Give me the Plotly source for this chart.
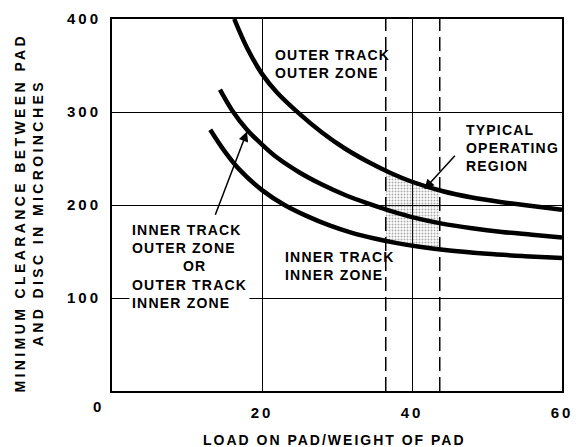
import numpy as np
import plotly.graph_objects as go

# Minimum clearance (microinches) versus load/weight ratio
oo_x = [16.3, 18, 20, 22, 25, 28, 31, 34, 37, 40, 44, 48, 52, 56, 60]
oo_y = [400, 369, 341, 321, 298, 278, 261, 247, 235, 225, 215, 208, 203, 199, 195]

mid_x = [14.4, 16, 18, 20, 22, 25, 28, 31, 34, 37, 40, 44, 48, 52, 56, 60]
mid_y = [324, 302, 281, 265, 251, 235, 222, 211, 202, 194, 187, 180, 175, 171, 168, 165]

ii_x = [13.1, 15, 17, 20, 23, 26, 29, 32, 35, 38, 41, 45, 50, 55, 60]
ii_y = [281, 258, 238, 216, 200, 188, 178, 170, 164, 159, 155, 151, 147.5, 145, 143]

# Typical operating load range
op_x = [36.5, 43.7]

x_ticks = [20, 40, 60]
y_ticks = [100, 200, 300, 400]

FONT = "Liberation Sans"


def sp(text, px=1.2):
    lines = text.split("\n")
    return "<br>".join(f'<span style="letter-spacing:{px}px">{ln}</span>' for ln in lines)


fig = go.Figure()

# stippled operating region between the inner and outer curves
xs = np.linspace(op_x[0], op_x[1], 25)
lower = np.interp(xs, ii_x, ii_y)
upper = np.interp(xs, oo_x, oo_y)
fig.add_trace(go.Scatter(x=xs, y=lower, mode="lines", line=dict(width=0),
                         hoverinfo="skip", showlegend=False))
fig.add_trace(go.Scatter(x=xs, y=upper, mode="lines", line=dict(width=0),
                         fill="tonexty", fillcolor="rgba(0,0,0,0)",
                         fillpattern=dict(shape=".", fgcolor="#555", bgcolor="rgba(0,0,0,0)",
                                          size=3, solidity=0.35),
                         hoverinfo="skip", showlegend=False))

for cx, cy in [(oo_x, oo_y), (mid_x, mid_y), (ii_x, ii_y)]:
    fig.add_trace(go.Scatter(x=cx, y=cy, mode="lines",
                             line=dict(color="black", width=4.5, shape="spline", smoothing=1.0),
                             showlegend=False))

for xv in op_x:
    fig.add_shape(type="line", x0=xv, x1=xv, y0=0, y1=1, yref="paper",
                  line=dict(color="black", width=1.5, dash="14px,6px"))

tfont = dict(family=FONT, size=14, color="black", weight="bold")
kfont = dict(family=FONT, size=15, color="black", weight="bold")

fig.add_annotation(x=21.5, y=352, text=sp("OUTER TRACK\nOUTER ZONE"), showarrow=False,
                   xanchor="left", yanchor="middle", align="left", font=tfont)
fig.add_annotation(x=46.9, y=261, text=sp("TYPICAL\nOPERATING\nREGION"), showarrow=False,
                   xanchor="left", yanchor="middle", align="left", font=tfont)
fig.add_annotation(x=22.8, y=134, text=sp("INNER TRACK\nINNER ZONE"), showarrow=False,
                   xanchor="left", yanchor="middle", align="left", font=tfont)
fig.add_annotation(x=2.3, y=134,
                   text=sp("INNER TRACK\nOUTER ZONE\n" + "&nbsp;" * 10 + "OR\nOUTER TRACK\nINNER ZONE"),
                   showarrow=False, xanchor="left", yanchor="middle", align="left",
                   bgcolor="white", borderpad=2, font=tfont)

# pointer arrows
fig.add_annotation(x=41.65, y=217, ax=45.9, ay=254.5, axref="x", ayref="y", text="",
                   showarrow=True, arrowhead=2, arrowsize=1.3, arrowwidth=1.5, arrowcolor="black")
fig.add_annotation(x=18.0, y=279, ax=13.7, ay=188, axref="x", ayref="y", text="",
                   showarrow=True, arrowhead=2, arrowsize=1.3, arrowwidth=1.5, arrowcolor="black")

# shared origin label and axis titles
fig.add_annotation(x=-0.03, y=-0.043, xref="paper", yref="paper", text=sp("0", 3),
                   showarrow=False, xanchor="center", yanchor="middle", font=kfont)
fig.add_annotation(x=0.495, y=-0.131, xref="paper", yref="paper",
                   text=sp("LOAD ON PAD/WEIGHT OF PAD", 2), showarrow=False,
                   xanchor="center", yanchor="middle", font=tfont)
fig.add_annotation(x=-0.185, y=0.479, xref="paper", yref="paper", textangle=-90,
                   text=sp("MINIMUM CLEARANCE BETWEEN PAD\nAND DISC IN MICROINCHES", 3.4),
                   showarrow=False, xanchor="center", yanchor="middle", font=tfont)

axis_common = dict(showline=True, mirror=True, linecolor="black", linewidth=2,
                   showgrid=True, gridcolor="black", gridwidth=1.2, zeroline=False,
                   ticks="", tickfont=kfont)

fig.update_xaxes(range=[0, 60], tickvals=x_ticks,
                 ticktext=[sp(str(v), 3) for v in x_ticks], ticklabelstandoff=7, **axis_common)
fig.update_yaxes(range=[0, 400], tickvals=y_ticks,
                 ticktext=[sp(str(v), 3) for v in y_ticks], ticklabelstandoff=6, **axis_common)

fig.update_layout(width=583, height=447, margin=dict(l=112, r=10, t=17, b=56),
                  plot_bgcolor="white", paper_bgcolor="white",
                  font=dict(family=FONT, color="black"))

fig.write_html("out.html")
